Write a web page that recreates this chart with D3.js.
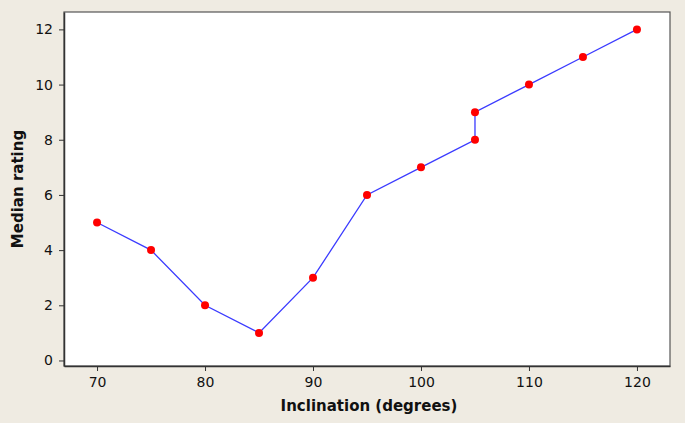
<!DOCTYPE html>
<html><head><meta charset="utf-8">
<script src="https://cdn.jsdelivr.net/npm/d3@7"></script>
<style>body{margin:0;background:#efebe2;}svg{display:block;}</style>
</head><body>
<script>
const inclination = [70, 75, 80, 85, 90, 95, 100, 105, 105, 110, 115, 120];
const medianRating = [5, 4, 2, 1, 3, 6, 7, 8, 9, 10, 11, 12];
const xTicks = [70, 80, 90, 100, 110, 120];
const yTicks = [0, 2, 4, 6, 8, 10, 12];

const W = 685, H = 423;
const m = {l: 64, r: 15, t: 12, b: 57};
const svg = d3.select("body").append("svg").attr("width", W).attr("height", H);
svg.append("rect").attr("width", W).attr("height", H).attr("fill", "#efebe2");

const x = d3.scaleLinear().domain([66.94, 123.06]).range([m.l, W - m.r]);
const y = d3.scaleLinear().domain([-0.2, 12.63]).range([H - m.b, m.t]);

svg.append("rect").attr("x", m.l).attr("y", m.t)
  .attr("width", W - m.r - m.l).attr("height", H - m.b - m.t)
  .attr("fill", "#fff").attr("stroke", "#555").attr("stroke-width", 1.2);

const font = "Verdana, 'DejaVu Sans', sans-serif";
const xa = svg.append("g").attr("transform", `translate(0,${H - m.b})`)
  .call(d3.axisBottom(x).tickValues(xTicks).tickSize(5).tickSizeOuter(0).tickPadding(6));
const ya = svg.append("g").attr("transform", `translate(${m.l},0)`)
  .call(d3.axisLeft(y).tickValues(yTicks).tickSize(5).tickSizeOuter(0).tickPadding(6));
[xa, ya].forEach(a => {
  a.select(".domain").attr("stroke", "#333").attr("stroke-width", 1.5);
  a.selectAll(".tick line").attr("stroke", "#333");
  a.selectAll("text").attr("font-family", font).attr("font-size", 14).attr("fill", "#111");
});

const pts = inclination.map((v, i) => [v, medianRating[i]]);
svg.append("path").datum(pts)
  .attr("d", d3.line().x(d => x(d[0])).y(d => y(d[1])))
  .attr("fill", "none").attr("stroke", "#3b3bff").attr("stroke-width", 1.3);
svg.selectAll("circle.pt").data(pts).enter().append("circle")
  .attr("cx", d => x(d[0])).attr("cy", d => y(d[1])).attr("r", 4)
  .attr("fill", "#ff0000");

svg.append("text").attr("x", (m.l + W - m.r) / 2 + 2).attr("y", 411)
  .attr("text-anchor", "middle").attr("font-family", font).attr("font-size", 15)
  .attr("font-weight", "bold").attr("fill", "#111").text("Inclination (degrees)");
svg.append("text").attr("transform", `translate(23,${(m.t + H - m.b) / 2}) rotate(-90)`)
  .attr("text-anchor", "middle").attr("font-family", font).attr("font-size", 15)
  .attr("font-weight", "bold").attr("fill", "#111").text("Median rating");
</script>
</body></html>
